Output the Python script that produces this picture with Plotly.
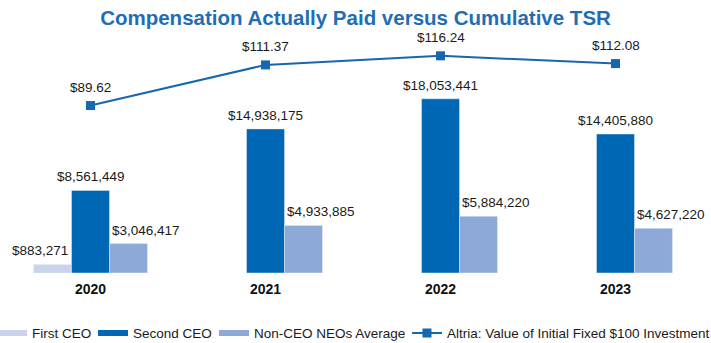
import plotly.graph_objects as go

years = ["2020", "2021", "2022", "2023"]
first_ceo = [883271, None, None, None]
second_ceo = [8561449, 14938175, 18053441, 14405880]
non_ceo_avg = [3046417, 4933885, 5884220, 4627220]
tsr = [89.62, 111.37, 116.24, 112.08]

c_first = "#C9D4EC"
c_second = "#0067B4"
c_non = "#8CA9D7"
c_line = "#1766B0"
c_title = "#1F6DB5"
FONT = "Liberation Sans, Arial, sans-serif"

fig = go.Figure()
fig.add_trace(go.Bar(x=years, y=first_ceo, name="First CEO", marker_color=c_first, showlegend=False))
fig.add_trace(go.Bar(x=years, y=second_ceo, name="Second CEO", marker_color=c_second, showlegend=False))
fig.add_trace(go.Bar(x=years, y=non_ceo_avg, name="Non-CEO NEOs Average", marker_color=c_non, showlegend=False))
fig.add_trace(go.Scatter(x=years, y=tsr, yaxis="y2", mode="lines+markers",
                         name="Altria: Value of Initial Fixed $100 Investment",
                         line=dict(color=c_line, width=2),
                         marker=dict(symbol="square", size=9, color=c_line),
                         showlegend=False))

# legend-only entries (thin bar swatches), each in its own legend box
legend_names = ["legend", "legend2", "legend3", "legend4"]
for nm, col, lg in [("First CEO", c_first, "legend"), ("Second CEO", c_second, "legend2"),
                    ("Non-CEO NEOs Average", c_non, "legend3")]:
    fig.add_trace(go.Scatter(x=years[:1], y=[None], mode="lines", name=nm, legend=lg,
                             line=dict(color=col, width=6)))
fig.add_trace(go.Scatter(x=years[:1], y=[None], yaxis="y2", mode="lines+markers",
                         name="Altria: Value of Initial Fixed $100 Investment", legend="legend4",
                         line=dict(color=c_line, width=2),
                         marker=dict(symbol="square", size=9, color=c_line)))

annotations = []
label_font = dict(family=FONT, size=13.5, color="#1a1a1a")
for series, dx in [(first_ceo, -51), (second_ceo, 0), (non_ceo_avg, 55)]:
    for i, v in enumerate(series):
        if v is None:
            continue
        annotations.append(dict(x=i, y=v, xref="x", yref="y", text=f"${v:,.0f}",
                                showarrow=False, xshift=dx, yshift=13.5, yanchor="middle",
                                font=label_font))
for i, v in enumerate(tsr):
    annotations.append(dict(x=i, y=v, xref="x", yref="y2", text=f"${v:.2f}",
                            showarrow=False, yshift=18.5, yanchor="middle", font=label_font))

legend_style = dict(orientation="h", xanchor="left", y=-0.258, yanchor="middle",
                    font=dict(family=FONT, size=13.5, color="#1a1a1a"),
                    itemclick=False, bgcolor="rgba(0,0,0,0)")
legend_x = [-0.0157, 0.1286, 0.3014, 0.5771]

fig.update_layout(
    width=711, height=343,
    margin=dict(l=3, r=8, t=40, b=70, autoexpand=False),
    paper_bgcolor="white", plot_bgcolor="white",
    barmode="group", bargap=0.349, bargroupgap=0,
    title=dict(text="<b>Compensation Actually Paid versus Cumulative TSR</b>",
               x=0.5, xanchor="center", y=1 - 18 / 343, yanchor="middle",
               font=dict(family=FONT, size=20.5, color=c_title)),
    xaxis=dict(type="category", categoryorder="array", categoryarray=years,
               range=[-0.5, len(years) - 0.5],
               showline=False, showgrid=False, zeroline=False,
               ticks="outside", ticklen=3, tickcolor="rgba(0,0,0,0)",
               tickfont=dict(family=FONT, size=14, color="#111111"),
               tickvals=years, ticktext=[f"<b>{y}</b>" for y in years]),
    yaxis=dict(range=[0, 24.15e6], visible=False, showgrid=False, zeroline=False),
    yaxis2=dict(range=[0, 124.7], overlaying="y", side="right", visible=False,
                showgrid=False, zeroline=False),
    annotations=annotations,
)
for lg, lx in zip(legend_names, legend_x):
    fig.update_layout({lg: dict(legend_style, x=lx)})

fig.write_html("out.html")
